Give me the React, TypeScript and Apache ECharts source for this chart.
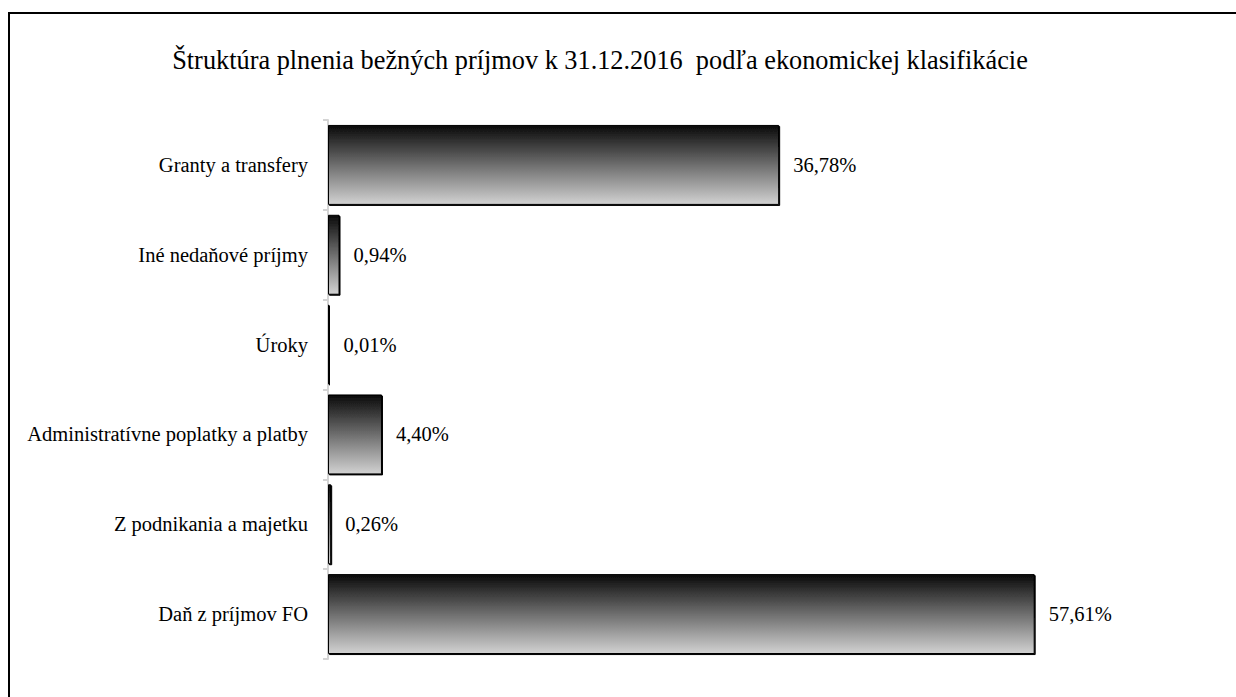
import React, { useEffect, useRef } from "react";
import * as echarts from "echarts";

const categories = [
  "Daň z príjmov FO",
  "Z podnikania a majetku",
  "Administratívne poplatky a platby",
  "Úroky",
  "Iné nedaňové príjmy",
  "Granty a transfery",
];
const values = [57.61, 0.26, 4.4, 0.01, 0.94, 36.78];
const titleText = "Štruktúra plnenia bežných príjmov k 31.12.2016  podľa ekonomickej klasifikácie";

export default function App() {
  const ref = useRef<HTMLDivElement>(null);
  useEffect(() => {
    if (!ref.current) return;
    const chart = echarts.init(ref.current, null, { renderer: "svg" });
    const font = "Times New Roman";
    chart.setOption({
      animation: false,
      backgroundColor: "transparent",
      textStyle: { fontFamily: font },
      graphic: [
        {
          type: "text",
          x: 600,
          y: 60,
          style: {
            text: titleText,
            fontFamily: font,
            fontSize: 26.3,
            fill: "#000",
            textAlign: "center",
            textVerticalAlign: "middle",
          },
        },
      ],
      grid: { left: 328, right: 172, top: 120, bottom: 38, containLabel: false },
      xAxis: {
        type: "value",
        min: 0,
        max: 60,
        show: false,
      },
      yAxis: {
        type: "category",
        data: categories,
        axisLine: { show: true, lineStyle: { color: "#d4d4d4", width: 2 } },
        axisTick: { show: true, length: 5, lineStyle: { color: "#d4d4d4", width: 2 } },
        axisLabel: { color: "#000", fontSize: 20.5, fontFamily: font, margin: 20 },
        splitLine: { show: false },
      },
      series: [
        {
          type: "bar",
          data: values,
          barCategoryGap: "11%",
          barMinHeight: 1.5,
          itemStyle: {
            color: new echarts.graphic.LinearGradient(0, 0, 0, 1, [
              { offset: 0, color: "#0a0a0a" },
              { offset: 1, color: "#d2d2d2" },
            ]),
            borderColor: "#000",
            borderWidth: 1,
            shadowColor: "#000",
            shadowOffsetX: 1,
            shadowOffsetY: 1,
            shadowBlur: 0,
          },
          label: {
            show: true,
            position: "right",
            distance: 14,
            color: "#000",
            fontSize: 20.5,
            fontFamily: font,
            formatter: (p: any) => p.value.toFixed(2).replace(".", ",") + "%",
          },
        },
      ],
    });
    return () => chart.dispose();
  }, []);
  return (
    <div
      style={{
        position: "fixed",
        left: 0,
        top: 0,
        width: 1236,
        height: 697,
        overflow: "hidden",
        background: "#fff",
      }}
    >
      <div
        style={{
          position: "absolute",
          left: 8,
          top: 12,
          width: 1300,
          height: 800,
          border: "2px solid #000",
          boxSizing: "border-box",
        }}
      />
      <div ref={ref} style={{ position: "absolute", left: 0, top: 0, width: 1236, height: 697 }} />
    </div>
  );
}
